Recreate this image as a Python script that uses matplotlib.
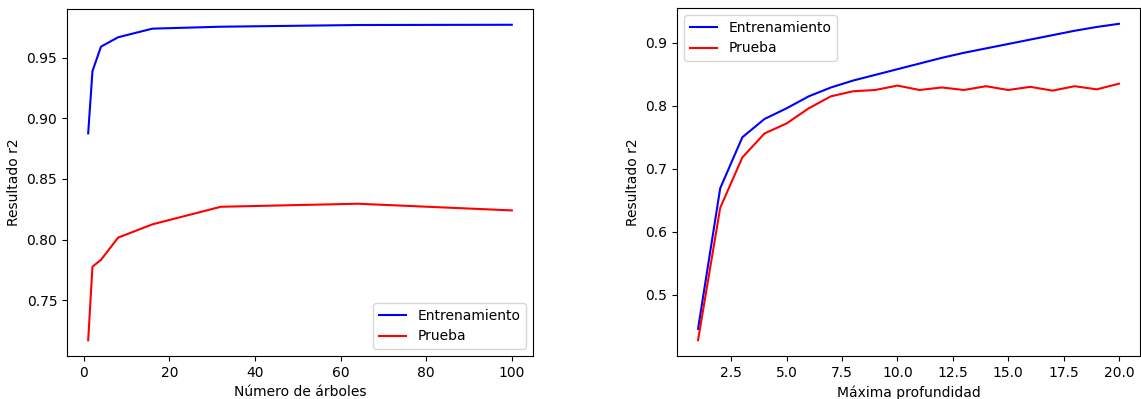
import matplotlib
matplotlib.use("Agg")
import matplotlib.pyplot as plt

n_arboles = [1, 2, 4, 8, 16, 32, 64, 100]
train_arboles = [0.8875, 0.9388, 0.959, 0.9667, 0.9738, 0.9754, 0.9768, 0.977]
test_arboles = [0.717, 0.7776, 0.7833, 0.8016, 0.8125, 0.827, 0.8295, 0.824]

profundidad = list(range(1, 21))
train_prof = [0.446, 0.669, 0.750, 0.779, 0.796, 0.815, 0.829, 0.840, 0.849, 0.858,
              0.867, 0.876, 0.884, 0.891, 0.898, 0.905, 0.912, 0.919, 0.925, 0.930]
test_prof = [0.428, 0.638, 0.718, 0.756, 0.772, 0.796, 0.815, 0.823, 0.825, 0.832,
             0.825, 0.829, 0.825, 0.831, 0.825, 0.830, 0.824, 0.831, 0.826, 0.835]

W, H = 1141, 399
fig = plt.figure(figsize=(W / 100, H / 100), dpi=100)

def rect(l, r, t, b):
    return [l / W, 1 - b / H, (r - l) / W, (b - t) / H]

ax1 = fig.add_axes(rect(67, 533, 9, 356))
ax1.plot(n_arboles, train_arboles, color="blue", label="Entrenamiento")
ax1.plot(n_arboles, test_arboles, color="red", label="Prueba")
ax1.set_xlabel("Número de árboles")
ax1.set_ylabel("Resultado r2")
ax1.legend(loc="lower right")

ax2 = fig.add_axes(rect(677, 1140, 8, 356))
ax2.plot(profundidad, train_prof, color="blue", label="Entrenamiento")
ax2.plot(profundidad, test_prof, color="red", label="Prueba")
ax2.set_xlabel("Máxima profundidad")
ax2.set_ylabel("Resultado r2")
ax2.legend(loc="upper left")

fig.savefig("out.png", dpi=100)
